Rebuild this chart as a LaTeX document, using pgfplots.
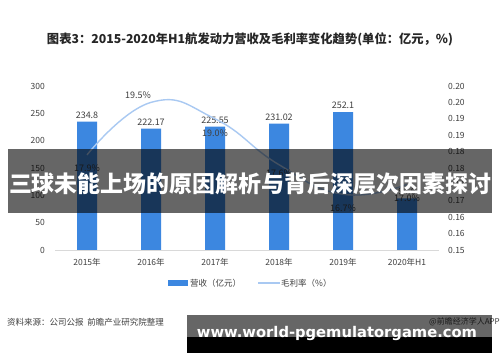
\documentclass[border=0pt]{standalone}
\usepackage{pgfplots}
\pgfplotsset{compat=1.18}
\usepackage{fontspec}
\setmainfont{Noto Sans CJK SC}
\newfontfamily\urlfont{DejaVu Sans}
\definecolor{barblue}{HTML}{3C87E0}
\definecolor{lineblue}{HTML}{A9C9F2}
\definecolor{txt}{HTML}{404040}
\definecolor{axgray}{HTML}{D9D9D9}
\begin{document}
\begin{tikzpicture}
\useasboundingbox (0,0) rectangle (500bp,362bp);
\fill[white] (0,0) rectangle (500bp,362bp);
\node[text=black!85, inner sep=0pt] at (250bp,323bp) {\resizebox{406bp}{!}{\bfseries 图表3：2015-2020年H1航发动力营收及毛利率变化趋势(单位：亿元，\%)}};
\begin{axis}[at={(55bp,112bp)}, anchor=south west, scale only axis,
  width=384bp, height=164bp,
  xmin=-0.5, xmax=5.5, ymin=0, ymax=300,
  ytick={0,50,...,300}, xtick={0,...,5},
  xticklabels={2015年,2016年,2017年,2018年,2019年,2020年H1},
  axis x line*=bottom, axis y line*=left,
  y axis line style={draw=none},
  x axis line style={-, draw=axgray, line width=0.8bp},
  major tick length=0, tick style={draw=none},
  ybar, bar width=20bp,
  ticklabel style={font=\fontsize{8.5bp}{10bp}\selectfont, text=txt},
  /pgf/number format/assume math mode=true,
  yticklabel style={anchor=east, inner sep=0pt, xshift=-10bp},
  xticklabel style={anchor=north, inner sep=0pt, yshift=-8bp},
  nodes near coords, point meta=explicit symbolic,
  every node near coord/.append style={font=\fontsize{9bp}{10bp}\selectfont, text=txt, anchor=south, inner sep=1bp, yshift=2bp},
  clip=false]
\addplot[fill=barblue, draw=none] coordinates {(0,234.8)[234.8] (1,222.17)[222.17] (2,225.55)[225.55] (3,231.02)[231.02] (4,252.1)[252.1] (5,94.6)[94.6]};
\end{axis}
\begin{axis}[at={(55bp,112bp)}, anchor=south west, scale only axis,
  width=384bp, height=164bp,
  xmin=-0.5, xmax=5.5, ymin=0.15, ymax=0.20,
  axis x line=none, axis y line*=right,
  y axis line style={draw=none},
  major tick length=0, tick style={draw=none},
  ytick={0.15,0.155,0.16,0.165,0.17,0.175,0.18,0.185,0.19,0.195,0.2},
  yticklabels={0.15,0.16,0.16,0.17,0.17,0.18,0.18,0.19,0.19,0.20,0.20},
  ticklabel style={font=\fontsize{8.5bp}{10bp}\selectfont, text=txt},
  yticklabel style={anchor=west, inner sep=0pt, xshift=9bp},
  clip=false]
\addplot[lineblue, line width=1.4bp, smooth, tension=0.8, mark=none] coordinates {(0,0.179) (1,0.195) (2,0.190) (3,0.176) (4,0.167) (5,0.170)};
\node[font=\fontsize{9bp}{10bp}\selectfont, text=txt, yshift=-13bp] at (axis cs:0,0.179) {17.9\%};
\node[font=\fontsize{9bp}{10bp}\selectfont, text=txt, xshift=-13bp, yshift=7bp] at (axis cs:1,0.195) {19.5\%};
\node[font=\fontsize{9bp}{10bp}\selectfont, text=txt, yshift=-14bp] at (axis cs:2,0.190) {19.0\%};
\node[font=\fontsize{9bp}{10bp}\selectfont, text=txt, yshift=-8bp] at (axis cs:3,0.176) {17.6\%};
\node[font=\fontsize{9bp}{10bp}\selectfont, text=txt, yshift=-14bp] at (axis cs:4,0.167) {16.7\%};
\node[font=\fontsize{9bp}{10bp}\selectfont, text=txt, yshift=-14bp] at (axis cs:5,0.170) {17.0\%};
\end{axis}
% legend
\fill[barblue] (168bp,76bp) rectangle (188bp,82bp);
\node[anchor=west, inner sep=0pt, font=\fontsize{8.5bp}{10bp}\selectfont, text=txt] at (190bp,79bp) {营收（亿元）};
\draw[lineblue, line width=1.4bp] (258bp,79bp) -- (280bp,79bp);
\node[anchor=west, inner sep=0pt, font=\fontsize{8.5bp}{10bp}\selectfont, text=txt] at (281bp,79bp) {毛利率（\%）};
% source
\node[anchor=west, inner sep=0pt, font=\fontsize{8.5bp}{10bp}\selectfont, text=txt] at (7bp,40bp) {资料来源：公司公报\ \ 前瞻产业研究院整理};
\node[anchor=east, inner sep=0pt, font=\fontsize{8bp}{10bp}\selectfont, text=txt] at (500bp,40bp) {@前瞻经济学人APP};
% overlay banners
\fill[black, opacity=0.6] (8bp,149bp) rectangle (492bp,213bp);
\node[text=white, inner sep=0pt] at (250bp,178bp) {\resizebox{482bp}{!}{\bfseries 三球未能上场的原因解析与背后深层次因素探讨}};
\fill[black, opacity=0.6] (187bp,25bp) rectangle (492bp,47bp);
\fill[black] (187bp,9bp) rectangle (492bp,25bp);
\node[text=white, inner sep=0pt] at (337bp,29bp) {\resizebox{280bp}{!}{\urlfont\bfseries www.world-pgemulatorgame.com}};
\end{tikzpicture}
\end{document}
